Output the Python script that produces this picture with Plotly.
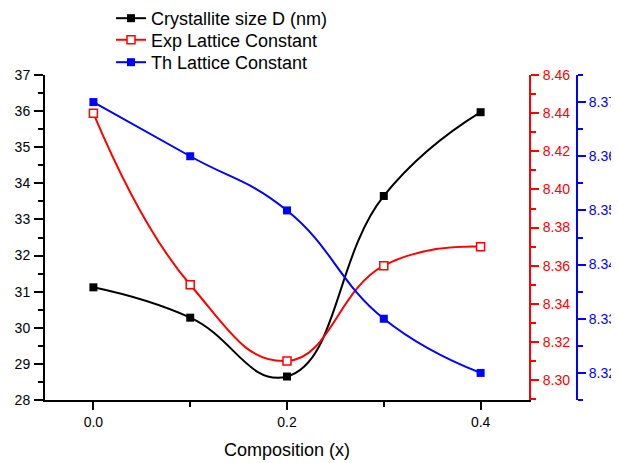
import plotly.graph_objects as go

composition = [0.0, 0.1, 0.2, 0.3, 0.4]
crystallite_size = [31.12, 30.28, 28.65, 33.65, 35.97]
exp_lattice = [8.440, 8.350, 8.310, 8.360, 8.370]
th_lattice = [8.370, 8.360, 8.350, 8.330, 8.320]

FONT = "Liberation Sans, Arial, sans-serif"
SMOOTH = 1.3

fig = go.Figure()
fig.add_trace(go.Scatter(
    x=composition, y=crystallite_size, name="Crystallite size D (nm)",
    mode="lines+markers", line=dict(color="black", width=2, shape="spline", smoothing=SMOOTH),
    marker=dict(symbol="square", size=8, color="black"), yaxis="y", cliponaxis=False,
    legend="legend"))
fig.add_trace(go.Scatter(
    x=composition, y=exp_lattice, name="Exp Lattice Constant",
    mode="lines+markers", line=dict(color="#ff0000", width=2, shape="spline", smoothing=SMOOTH),
    marker=dict(symbol="square", size=8, color="white", line=dict(color="#ff0000", width=1.5)),
    yaxis="y2", cliponaxis=False, legend="legend2"))
fig.add_trace(go.Scatter(
    x=composition, y=th_lattice, name="Th Lattice Constant",
    mode="lines+markers", line=dict(color="#0000ff", width=2, shape="spline", smoothing=SMOOTH),
    marker=dict(symbol="square", size=8, color="#0000ff"), yaxis="y3", cliponaxis=False,
    legend="legend3"))

def leg(y):
    return dict(x=0.1218, y=y, xanchor="left", yanchor="top",
                font=dict(family=FONT, size=18, color="black"),
                bgcolor="rgba(0,0,0,0)", tracegroupgap=0, borderwidth=0)

fig.update_layout(
    width=611, height=455,
    margin=dict(l=37, r=32, t=67, b=63, autoexpand=False),
    paper_bgcolor="white", plot_bgcolor="white",
    font=dict(family=FONT, size=14, color="black"),
    showlegend=True,
    legend=leg(1.2308),
    legend2=leg(1.1646),
    legend3=leg(1.0954),
    xaxis=dict(
        domain=[0, 0.893], range=[-0.05, 0.45],
        tick0=0, dtick=0.2, tickformat=".1f",
        ticks="outside", ticklen=8, tickwidth=2, tickcolor="black",
        minor=dict(ticks="outside", ticklen=5, tickwidth=2, dtick=0.1, tick0=0, tickcolor="black", showgrid=False),
        showline=True, linecolor="black", linewidth=2, mirror=False,
        showgrid=False, zeroline=False,
        tickfont=dict(size=14, color="black"),
        title=dict(text="Composition (x)", font=dict(size=18, color="black"), standoff=15),
    ),
    yaxis=dict(
        range=[28, 37], dtick=1, tick0=28,
        ticks="outside", ticklen=9, tickwidth=2, tickcolor="black",
        minor=dict(ticks="outside", ticklen=5, tickwidth=2, dtick=0.5, tick0=28, tickcolor="black", showgrid=False),
        showline=True, linecolor="black", linewidth=2,
        showgrid=False, zeroline=False, ticklabelstandoff=1,
        tickfont=dict(size=14, color="black"),
    ),
    yaxis2=dict(
        range=[8.2895, 8.4601], tick0=8.30, dtick=0.02, tickformat=".2f",
        overlaying="y", side="right", anchor="x",
        ticks="outside", ticklen=8, tickwidth=2, tickcolor="#ff0000",
        minor=dict(ticks="outside", ticklen=5, tickwidth=2, dtick=0.01, tick0=8.30, tickcolor="#ff0000", showgrid=False),
        showline=True, linecolor="#ff0000", linewidth=2,
        showgrid=False, zeroline=False, ticklabelstandoff=1,
        tickfont=dict(size=14, color="#ff0000"),
    ),
    yaxis3=dict(
        range=[8.315, 8.375], tick0=8.32, dtick=0.01, tickformat=".2f",
        overlaying="y", side="right", anchor="free", position=0.98155,
        ticks="outside", ticklen=8, tickwidth=2, tickcolor="#0000ff",
        minor=dict(ticks="outside", ticklen=5, tickwidth=2, dtick=0.005, tick0=8.315, tickcolor="#0000ff", showgrid=False),
        showline=True, linecolor="#0000ff", linewidth=2,
        showgrid=False, zeroline=False, ticklabelstandoff=0,
        tickfont=dict(size=14, color="#0000ff"),
    ),
)

fig.write_html("out.html")
